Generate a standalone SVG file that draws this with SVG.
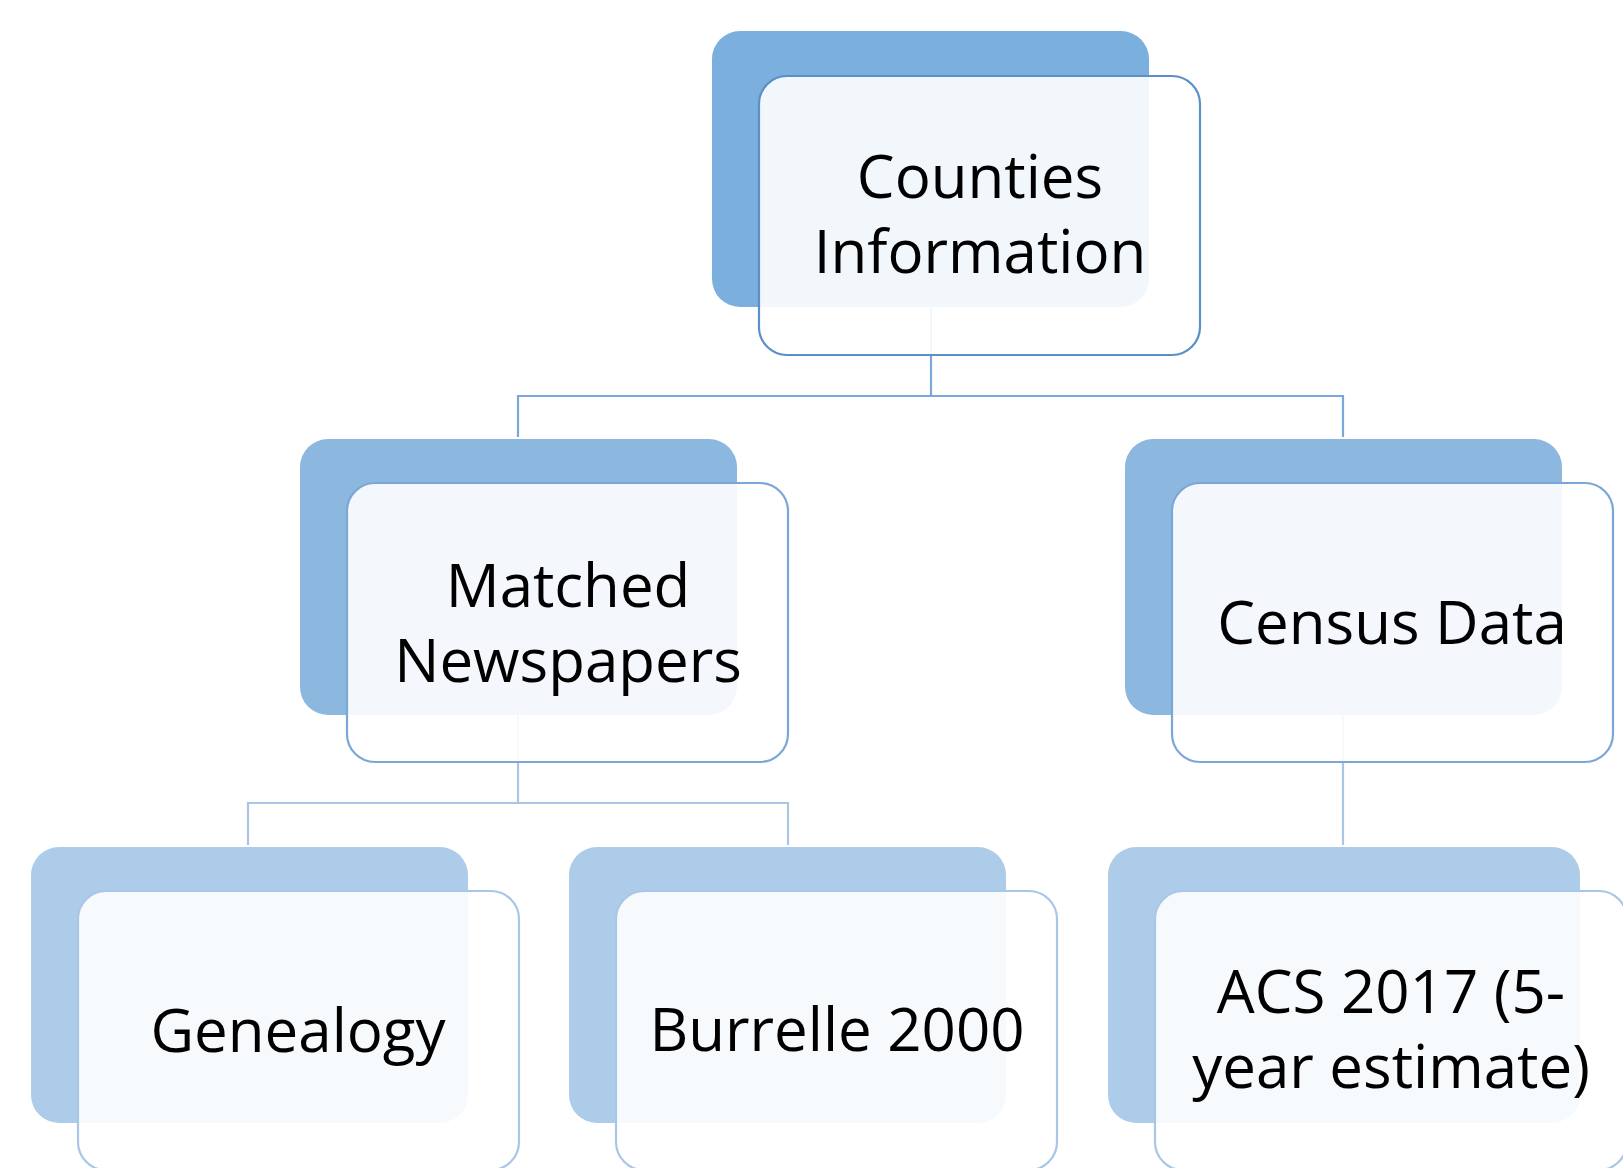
<svg xmlns="http://www.w3.org/2000/svg" width="1623" height="1168" viewBox="0 0 1623 1168">
<style>
.t{font-family:"Open Sans","Liberation Sans",sans-serif;font-size:60px;fill:#000;text-anchor:middle}
.f{fill:#fff;fill-opacity:0.9;stroke-width:2.2}
.b1{fill:#7BAFDD}.b2{fill:#8CB8E0}.b3{fill:#ADCCE9}
.s1{stroke:#5B8FC7}.s2{stroke:#7BA7D8}.s3{stroke:#A9C6E7}
.c{fill:none;stroke-width:2.2}
</style>
<rect width="1623" height="1168" fill="#fff"/>
<g id="connectors">
<path class="c" stroke="#7BA8D9" d="M931,307 V396 H518 V437 M931,396 H1343 V437"/>
<path class="c" stroke="#A9C6E7" d="M518,714 V803 H248 V845 M518,803 H788 V845 M1343,714 V845"/>
</g>
<g id="counties">
<rect class="b1" x="712" y="31" width="437" height="276" rx="28"/>
<rect class="f s1" x="759" y="76" width="441" height="279" rx="28"/>
<text class="t" x="980" y="198">Counties</text>
<text class="t" x="980" y="273">Information</text>
</g>
<g id="matched">
<rect class="b2" x="300" y="439" width="437" height="276" rx="28"/>
<rect class="f s2" x="347" y="483" width="441" height="279" rx="28"/>
<text class="t" x="568" y="607">Matched</text>
<text class="t" x="568" y="682">Newspapers</text>
</g>
<g id="census">
<rect class="b2" x="1125" y="439" width="437" height="276" rx="28"/>
<rect class="f s2" x="1172" y="483" width="441" height="279" rx="28"/>
<text class="t" x="1392" y="644">Census Data</text>
</g>
<g id="genealogy">
<rect class="b3" x="31" y="847" width="437" height="276" rx="28"/>
<rect class="f s3" x="78" y="891" width="441" height="279" rx="28"/>
<text class="t" x="298" y="1052">Genealogy</text>
</g>
<g id="burrelle">
<rect class="b3" x="569" y="847" width="437" height="276" rx="28"/>
<rect class="f s3" x="616" y="891" width="441" height="279" rx="28"/>
<text class="t" x="837" y="1051">Burrelle 2000</text>
</g>
<g id="acs">
<rect class="b3" x="1108" y="847" width="472" height="276" rx="28"/>
<rect class="f s3" x="1155" y="891" width="472" height="279" rx="28"/>
<text class="t" x="1391" y="1013">ACS 2017 (5-</text>
<text class="t" x="1391" y="1088">year estimate)</text>
</g>
</svg>
